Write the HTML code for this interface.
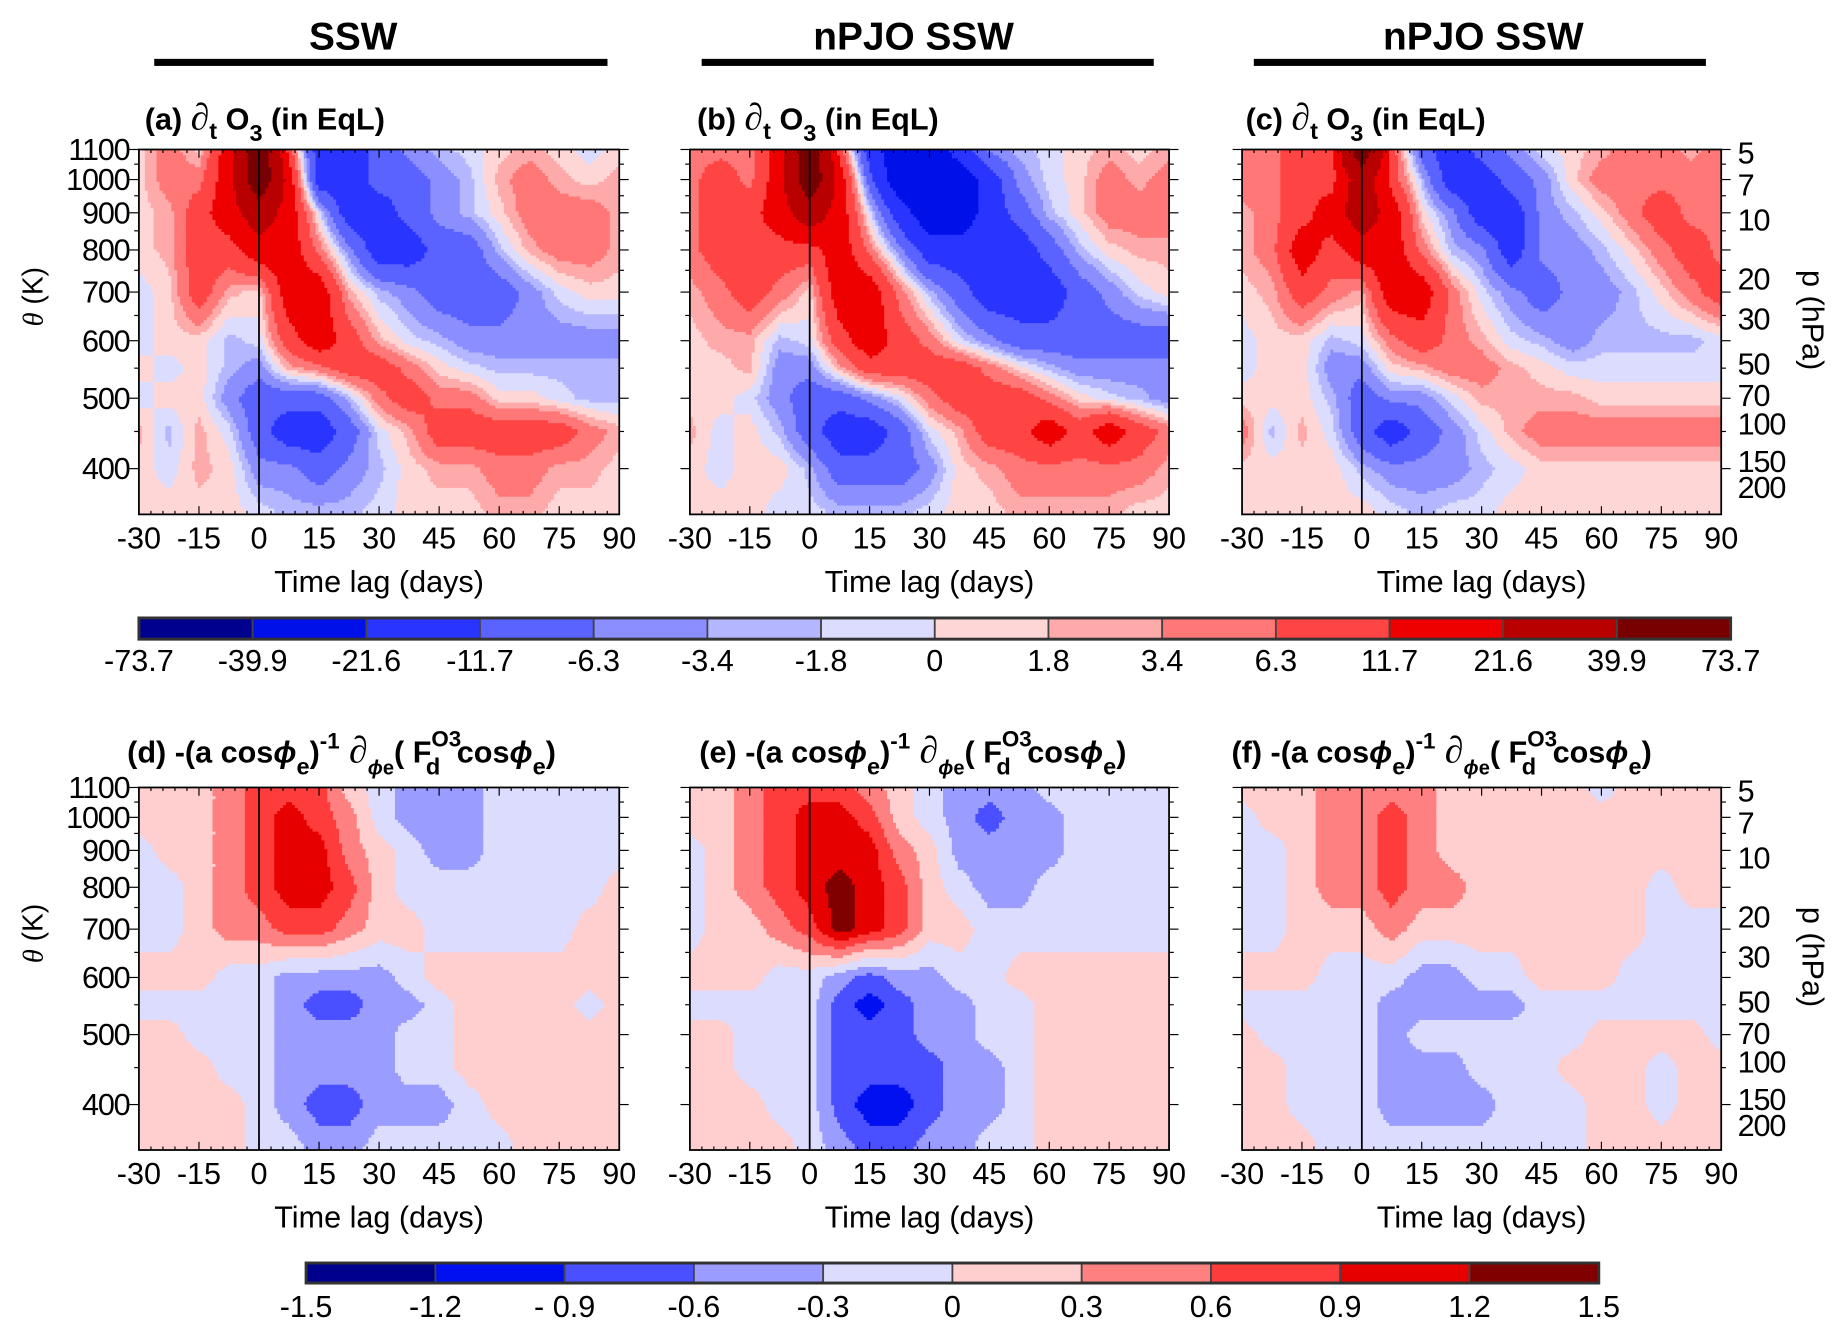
<!DOCTYPE html>
<html><head><meta charset="utf-8">
<style>
html,body{margin:0;padding:0;background:#fff;}
svg{display:block;font-family:"Liberation Sans",sans-serif;}
</style></head>
<body>
<svg id="fig" width="1846" height="1336" viewBox="0 0 1568 1135" preserveAspectRatio="none" xmlns="http://www.w3.org/2000/svg">
<rect x="0" y="0" width="1568" height="1135" fill="#fff"/>
</svg>
<script>
// ---- data ----
const timeLags = [-30,-22.5,-15,-7.5,0,7.5,15,22.5,30,37.5,45,52.5,60,67.5,75,82.5,90];
const thetaLevels = [1100,1000,900,800,700,600,550,500,450,400,350];
const xTickLabels = [-30,-15,0,15,30,45,60,75,90];
const thetaTickLabels = [1100,1000,900,800,700,600,500,400];
const pressureTickLabels = ["5","7","10","20","30","50","70","100","150","200"];
const pressureTickY = [130,157,187,237,271,309,336,360,392,414];
const topBounds = [-73.7,-39.9,-21.6,-11.7,-6.3,-3.4,-1.8,0,1.8,3.4,6.3,11.7,21.6,39.9,73.7];
const topColors = ["#00008f","#0010e8","#2a34ff","#5a62ff","#8a8eff","#b4b6ff","#dcdcff","#ffd6d6","#ffaaaa","#ff7777","#ff4444","#ee0000","#b80000","#780000"];
const botBounds = [-1.5,-1.2,-0.9,-0.6,-0.3,0,0.3,0.6,0.9,1.2,1.5];
const botColors = ["#00008f","#0010f0","#4a50ff","#9a9cff","#dcdcff","#ffcece","#ff8080","#ff3c3c","#e60000","#800000"];

const panelA = [
[1,5,1,16,55,9,-16,-16,-9,-5,-2.5,-1,1,2.5,1,-1,1],
[1,5,5,16,55,16,-16,-16,-9,-9,-5,-2.5,2.5,5,2.5,1,2.5],
[1,2.5,9,16,30,16,-1,-16,-16,-9,-5,-2.5,1,5,5,5,2.5],
[1,2.5,9,9,16,16,5,-5,-16,-16,-9,-9,-2.5,2.5,5,5,2.5],
[-1,1,9,2.5,1,16,16,2.5,-2.5,-5,-9,-9,-9,-5,-1,1,1],
[-1,1,1,-2.5,-1,9,16,9,2.5,-1,-2.5,-5,-5,-5,-5,-5,-5],
[1,-1,1,-2.5,-5,2.5,5,9,9,5,1,-1,-2.5,-2.5,-2.5,-2.5,-2.5],
[-1,1,1,-5,-9,-9,-9,-2.5,5,9,5,5,1,1,-1,-2.5,-2.5],
[2.5,-2.5,2.5,-1,-9,-16,-16,-9,-1,2.5,9,9,9,9,9,5,2.5],
[1,-1,2.5,1,-5,-5,-9,-5,-2.5,1,2.5,2.5,5,5,2.5,2.5,1],
[1,1,1,1,-1,-2.5,-2.5,-2.5,-1,1,1,1,2.5,2.5,1,1,1]];
const panelB = [
[5,5,5,16,55,9,-16,-30,-30,-16,-5,-2.5,-1,1,2.5,1,2.5],
[5,9,5,16,55,16,-9,-30,-30,-30,-16,-5,-1,1,5,2.5,5],
[5,9,9,16,30,16,-1,-16,-30,-30,-16,-9,-2.5,1,5,5,5],
[5,9,9,9,9,16,5,-5,-16,-16,-16,-16,-9,-2.5,1,2.5,2.5],
[2.5,5,9,5,1,16,16,5,-2.5,-9,-16,-16,-16,-9,-5,-1,1],
[1,2.5,2.5,-2.5,-1,9,16,9,5,-1,-5,-9,-9,-9,-9,-9,-9],
[1,1,2.5,-5,-5,2.5,9,9,9,9,5,1,-2.5,-5,-5,-5,-5],
[1,1,-1,-5,-9,-9,-5,-1,5,9,9,9,5,1,-1,-2.5,-5],
[2.5,-1,1,-2.5,-9,-16,-16,-9,-1,2.5,9,9,16,9,16,9,5],
[1,-1,1,1,-2.5,-9,-9,-9,-5,1,2.5,5,5,5,5,5,2.5],
[1,1,1,-1,-1,-2.5,-2.5,-2.5,-1,1,1,2.5,2.5,2.5,2.5,1,1]];
const panelC = [
[5,5,9,9,55,9,-9,-16,-9,-5,-1,1,2.5,5,5,2.5,5],
[5,5,9,9,30,9,-2.5,-16,-16,-9,-5,1,5,5,5,5,5],
[2.5,5,9,16,30,16,1,-5,-16,-16,-5,-2.5,1,5,9,5,5],
[2.5,5,16,9,16,16,5,-2.5,-5,-16,-5,-5,-2.5,1,5,9,5],
[1,2.5,9,5,2.5,16,16,5,-1,-5,-9,-5,-5,-2.5,1,5,9],
[-1,1,1,-2.5,-1,5,9,5,2.5,-1,-2.5,-5,-2.5,-2.5,-2.5,-2.5,-1],
[-1,1,1,-5,-5,1,2.5,5,5,2.5,1,-1,-1,-1,-1,-1,-1],
[1,1,1,-2.5,-9,-5,-5,-1,2.5,2.5,2.5,2.5,1,1,1,1,1],
[5,-2.5,2.5,-1,-9,-16,-9,-5,-1,2.5,5,5,5,5,5,5,5],
[1,1,1,1,-2.5,-5,-5,-5,-2.5,-1,1,1,1,1,1,1,1],
[1,1,1,1,1,-1,-2.5,-1,-1,1,1,1,1,1,1,1,1]];
const panelD = [
[.15,.15,.15,.45,.75,.75,.75,.15,-.15,-.45,-.45,-.45,-.15,-.15,-.15,-.15,-.15],
[.15,.15,.15,.45,.75,1.05,.75,.45,-.15,-.45,-.45,-.45,-.15,-.15,-.15,-.15,-.15],
[-.15,.15,.15,.45,.75,1.05,1.05,.45,.15,-.15,-.45,-.45,-.15,-.15,-.15,-.15,-.15],
[-.15,-.15,.15,.45,.75,1.05,1.05,.75,.15,-.15,-.15,-.15,-.15,-.15,-.15,-.15,.15],
[-.15,-.15,.15,.45,.45,.75,.75,.45,.15,.15,-.15,-.15,-.15,-.15,-.15,.15,.15],
[.15,.15,.15,-.15,-.15,-.45,-.45,-.45,-.45,-.15,.15,.15,.15,.15,.15,.15,.15],
[-.15,-.15,-.15,-.15,-.15,-.45,-.75,-.75,-.45,-.45,-.15,.15,.15,.15,.15,-.15,.15],
[.15,.15,-.15,-.15,-.15,-.45,-.45,-.45,-.45,-.15,-.15,.15,.15,.15,.15,.15,.15],
[.15,.15,.15,-.15,-.15,-.45,-.45,-.45,-.45,-.15,-.15,.15,.15,.15,.15,.15,.15],
[.15,.15,.15,.15,-.15,-.45,-.75,-.75,-.45,-.45,-.45,-.15,.15,.15,.15,.15,.15],
[.15,.15,.15,.15,-.15,-.15,-.45,-.45,-.15,-.15,-.15,-.15,-.15,.15,.15,.15,.15]];
const panelE = [
[.15,.15,.45,.75,.75,.75,.45,.15,-.15,-.45,-.45,-.45,-.15,-.15,-.15,-.15,-.15],
[.15,.15,.45,.75,1.05,1.05,.75,.15,-.15,-.45,-.75,-.45,-.45,-.15,-.15,-.15,-.15],
[-.15,.15,.45,.75,1.05,1.05,1.05,.45,.15,-.45,-.45,-.45,-.45,-.15,-.15,-.15,-.15],
[-.15,.15,.45,.75,1.05,1.35,1.05,.75,.15,-.15,-.45,-.45,-.15,-.15,-.15,-.15,-.15],
[-.15,.15,.15,.45,.75,1.35,1.05,.75,.15,.15,-.15,-.15,-.15,-.15,-.15,-.15,-.15],
[.15,.15,.15,-.15,-.15,-.45,-.75,-.45,-.45,-.15,-.15,.15,.15,.15,.15,.15,.15],
[-.15,-.15,-.15,-.15,-.15,-.75,-1.05,-.75,-.45,-.45,-.15,-.15,.15,.15,.15,.15,.15],
[.15,.15,-.15,-.15,-.15,-.75,-.75,-.75,-.45,-.45,-.15,-.15,.15,.15,.15,.15,.15],
[.15,.15,-.15,-.15,-.15,-.75,-.75,-.75,-.75,-.45,-.45,-.15,.15,.15,.15,.15,.15],
[.15,.15,.15,-.15,-.15,-.75,-1.05,-1.05,-.75,-.45,-.45,-.15,.15,.15,.15,.15,.15],
[.15,.15,.15,.15,-.15,-.45,-.75,-.75,-.45,-.45,-.15,-.15,.15,.15,.15,.15,.15]];
const panelF = [
[.15,.15,.15,.45,.45,.45,.45,.15,.15,.15,.15,.15,-.15,.15,.15,.15,.15],
[-.15,.15,.15,.45,.45,.75,.45,.15,.15,.15,.15,.15,.15,.15,.15,.15,.15],
[-.15,-.15,.15,.45,.45,.75,.45,.15,.15,.15,.15,.15,.15,.15,.15,.15,.15],
[-.15,-.15,.15,.45,.45,.75,.45,.45,.15,.15,.15,.15,.15,.15,-.15,.15,.15],
[-.15,-.15,.15,.15,.15,.45,.15,.15,.15,.15,.15,.15,.15,.15,-.15,-.15,-.15],
[.15,.15,.15,-.15,-.15,-.15,-.45,-.45,-.15,-.15,.15,.15,.15,-.15,-.15,-.15,-.15],
[-.15,-.15,-.15,-.15,-.15,-.45,-.45,-.45,-.45,-.45,-.15,-.15,-.15,-.15,-.15,-.15,-.15],
[.15,-.15,-.15,-.15,-.15,-.45,-.15,-.15,-.15,-.15,-.15,-.15,.15,.15,.15,.15,-.15],
[.15,.15,-.15,-.15,-.15,-.45,-.45,-.45,-.15,-.15,-.15,.15,.15,.15,-.15,.15,.15],
[.15,.15,-.15,-.15,-.15,-.45,-.45,-.45,-.45,-.15,-.15,-.15,.15,.15,-.15,.15,.15],
[.15,.15,.15,-.15,-.15,-.15,-.15,-.15,-.15,-.15,-.15,-.15,.15,.15,.15,.15,.15]];

// ---- drawing ----
const NS = "http://www.w3.org/2000/svg";
const svg = document.getElementById("fig");
function mk(tag, attrs, parent, text){
  const e = document.createElementNS(NS, tag);
  for (const k in attrs) e.setAttribute(k, attrs[k]);
  if (text !== undefined) e.textContent = text;
  (parent || svg).appendChild(e);
  return e;
}
const TMIN=-30, TMAX=90, THMIN=346, THMAX=1100;
function xScale(p, t){ return p.x0 + (t-TMIN)/(TMAX-TMIN)*(p.x1-p.x0); }
function yScale(p, th){ return p.y0 + (Math.log(THMAX)-Math.log(th))/(Math.log(THMAX)-Math.log(THMIN))*(p.y1-p.y0); }
function tFromX(p, x){ return TMIN + (x-p.x0)/(p.x1-p.x0)*(TMAX-TMIN); }
function lthFromY(p, y){ return Math.log(THMAX) - (y-p.y0)/(p.y1-p.y0)*(Math.log(THMAX)-Math.log(THMIN)); }
function sample(data, t, lth){
  let ci = 0; while (ci < timeLags.length-2 && t > timeLags[ci+1]) ci++;
  let fx = (t-timeLags[ci])/(timeLags[ci+1]-timeLags[ci]); fx = Math.max(0,Math.min(1,fx));
  const lts = thetaLevels.map(Math.log);
  let ri = 0; while (ri < lts.length-2 && lth < lts[ri+1]) ri++;
  let fy = (lts[ri]-lth)/(lts[ri]-lts[ri+1]); fy = Math.max(0,Math.min(1,fy));
  const a=data[ri][ci], b=data[ri][ci+1], c=data[ri+1][ci], d=data[ri+1][ci+1];
  return (a*(1-fx)+b*fx)*(1-fy) + (c*(1-fx)+d*fx)*fy;
}
function colorIdx(v, bounds){
  for (let i=1;i<bounds.length-1;i++) if (v < bounds[i]) return i-1;
  return bounds.length-2;
}
function drawPanel(p){
  const g = mk("g", {});
  
  
  const cs = 2.5;
  function flush(x0, x1, y, c){
    const r = mk("rect", {x:x0, y:y, width:x1-x0+0.4, height:Math.min(cs,p.y1-y)+0.4, fill:p.colors[c]}, g);
    
    
  }
  for (let y=p.y0; y<p.y1; y+=cs){
    const lth = lthFromY(p, y+cs/2);
    let runStart = p.x0, runC = null;
    for (let x=p.x0; x<p.x1; x+=cs){
      const c = colorIdx(sample(p.data, tFromX(p, Math.min(x+cs/2,p.x1)), lth), p.bounds);
      if (c !== runC){
        if (runC !== null) flush(runStart, x, y, runC);
        runStart = x; runC = c;
      }
    }
    if (runC !== null) flush(runStart, p.x1, y, runC);
  }
  const fr = mk("rect", {x:p.x0, y:p.y0, width:p.x1-p.x0, height:p.y1-p.y0, fill:"none", stroke:"#000", "stroke-width":1.5});
  
  
  const zl = mk("line", {x1:xScale(p,0), x2:xScale(p,0), y1:p.y0, y2:p.y1, stroke:"#000", "stroke-width":1.5});
  
  
  for (let t=-30;t<=90;t+=3){
    const major = (t%15===0);
    mk("line", {x1:xScale(p,t), x2:xScale(p,t), y1:p.y1, y2:p.y1-(major?7:3), stroke:"#000", "stroke-width":1});
    mk("line", {x1:xScale(p,t), x2:xScale(p,t), y1:p.y0, y2:p.y0+(major?7:3), stroke:"#000", "stroke-width":1});
  }
  xTickLabels.forEach(t=>{
    const tl = mk("text", {x:xScale(p,t), y:p.y1+29, "text-anchor":"middle", "font-size":26}, svg, String(t));
    
    
  });
  const xt = mk("text", {x:(p.x0+p.x1)/2, y:p.y1+66, "text-anchor":"middle", "font-size":26}, svg, "Time lag (days)");
  
  
  for (let th=400; th<=1100; th+=50){
    const major = th%100===0;
    mk("line", {x1:p.x0, x2:p.x0-(major?8:4), y1:yScale(p,th), y2:yScale(p,th), stroke:"#000", "stroke-width":1});
    mk("line", {x1:p.x1, x2:p.x1+(major?8:4), y1:yScale(p,th), y2:yScale(p,th), stroke:"#000", "stroke-width":1});
  }
  if (p.leftLabels){
    thetaTickLabels.forEach(th=>{
      const yl = mk("text", {x:p.x0-8, y:yScale(p,th)+9, "text-anchor":"end", "font-size":26, "letter-spacing":"-1"}, svg, String(th));
      
      
    });
    const yt = mk("text", {x:0, y:0, transform:`translate(36,${(p.y0+p.y1)/2-30}) rotate(-90)`, "text-anchor":"middle", "font-size":24}, svg);
    yt.innerHTML = '<tspan font-style="italic" font-family="Liberation Serif">θ</tspan> (K)';
    
    
  }
  if (p.rightLabels){
    pressureTickLabels.forEach((lab,i)=>{
      const yy = p.y0 + (pressureTickY[i]-127);
      const pl = mk("text", {x:p.x1+14, y:yy+9, "font-size":26, "letter-spacing":"-1"}, svg, lab);
      
      
    });
    const pt = mk("text", {x:0, y:0, transform:`translate(1531,${(p.y0+p.y1)/2-10}) rotate(90)`, "text-anchor":"middle", "font-size":26}, svg, "p (hPa)");
    
    
  }
}
const TOPY0=127, TOPY1=437, BOTY0=669, BOTY1=977;
const cols = [[118,526],[586,993],[1055,1462]];
const panels = [
 {name:"panel-a", data:panelA, x0:cols[0][0], x1:cols[0][1], y0:TOPY0, y1:TOPY1, bounds:topBounds, colors:topColors, leftLabels:true},
 {name:"panel-b", data:panelB, x0:cols[1][0], x1:cols[1][1], y0:TOPY0, y1:TOPY1, bounds:topBounds, colors:topColors},
 {name:"panel-c", data:panelC, x0:cols[2][0], x1:cols[2][1], y0:TOPY0, y1:TOPY1, bounds:topBounds, colors:topColors, rightLabels:true},
 {name:"panel-d", data:panelD, x0:cols[0][0], x1:cols[0][1], y0:BOTY0, y1:BOTY1, bounds:botBounds, colors:botColors, leftLabels:true},
 {name:"panel-e", data:panelE, x0:cols[1][0], x1:cols[1][1], y0:BOTY0, y1:BOTY1, bounds:botBounds, colors:botColors},
 {name:"panel-f", data:panelF, x0:cols[2][0], x1:cols[2][1], y0:BOTY0, y1:BOTY1, bounds:botBounds, colors:botColors, rightLabels:true}];
panels.forEach(drawPanel);

[["SSW",300,131,516],["nPJO SSW",776,596,980],["nPJO SSW",1260,1065,1449]].forEach(h=>{
  const t = mk("text", {x:h[1], y:42, "text-anchor":"middle", "font-size":33, "font-weight":"bold"}, svg, h[0]);
  
  
  const b = mk("rect", {x:h[2], y:50, width:h[3]-h[2], height:6, fill:"#000"});
  
  
});
const topTitleX = [123,592,1058];
["(a)","(b)","(c)"].forEach((l,i)=>{
  const t = mk("text", {x:topTitleX[i], y:110, "font-size":26, "font-weight":"bold"}, svg);
  
  
  t.innerHTML = `${l} <tspan font-family="Liberation Serif" font-style="italic" font-size="32">∂</tspan><tspan dy="8" font-size="20">t</tspan><tspan dy="-8"> O</tspan><tspan dy="10" font-size="20">3</tspan><tspan dy="-10">  (in EqL)</tspan>`;
});
const botTitleX = [108,594,1046];
["(d)","(e)","(f)"].forEach((l,i)=>{
  const t = mk("text", {x:botTitleX[i], y:648, "font-size":26, "font-weight":"bold"}, svg);
  
  
  t.innerHTML = `${l}  -(a cos<tspan font-style="italic">ϕ</tspan><tspan dy="10" font-size="20">e</tspan><tspan dy="-10">)</tspan><tspan dy="-12" font-size="19">-1</tspan><tspan dy="12" font-family="Liberation Serif" font-style="italic" font-size="32"> ∂</tspan><tspan dy="10" font-size="17" font-style="italic">ϕ</tspan><tspan font-size="17">e</tspan><tspan dy="-10">( F</tspan><tspan dy="-14" font-size="19">O3</tspan><tspan dx="-30" dy="24" font-size="20">d</tspan><tspan dx="14" dy="-10">cos</tspan><tspan font-style="italic">ϕ</tspan><tspan dy="10" font-size="20">e</tspan><tspan dy="-10">)</tspan>`;
});

function drawColorbar(name, x0, x1, y0, y1, colors, labels, labelY){
  const g = mk("g", {});
  
  
  const w = (x1-x0)/colors.length;
  colors.forEach((c,i)=>{
    const r = mk("rect", {x:x0+i*w, y:y0, width:w, height:y1-y0, fill:c, stroke:"#444", "stroke-width":1.5}, g);
    
    
  });
  mk("rect", {x:x0, y:y0, width:x1-x0, height:y1-y0, fill:"none", stroke:"#333", "stroke-width":2.5}, g);
  labels.forEach((l,i)=>{
    const t = mk("text", {x:x0+i*w, y:labelY, "text-anchor":"middle", "font-size":26}, g, l);
    
    
  });
}
drawColorbar("colorbar-ozone-tendency", 118, 1470, 525, 543, topColors, topBounds.map(String), 570);
drawColorbar("colorbar-flux-divergence", 260, 1358, 1073, 1090, botColors, ["-1.5","-1.2","- 0.9","-0.6","-0.3","0","0.3","0.6","0.9","1.2","1.5"], 1119);
</script>
</body></html>
